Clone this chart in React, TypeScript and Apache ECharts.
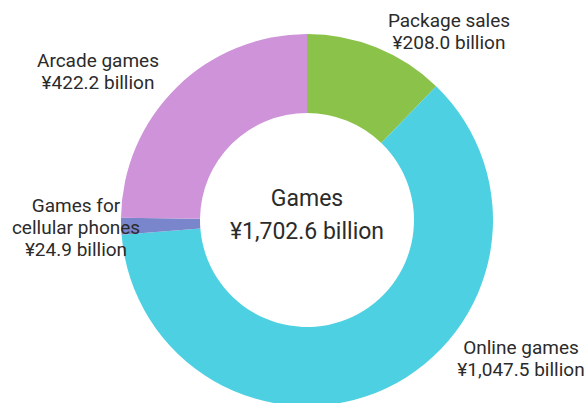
import React, { useEffect, useRef } from "react";
import * as echarts from "echarts";

const categories = ["Package sales", "Online games", "Games for\ncellular phones", "Arcade games"];
const values = [208.0, 1047.5, 24.9, 422.2];
const colors = ["#8BC34A", "#4DD0E1", "#7986CB", "#CE93D8"];
const totalLabel = "Games";
const labelPositions = [
  [449, 31],
  [521, 358],
  [76, 227],
  [98, 71],
];

const fmt = (v: number) =>
  v.toLocaleString("en-US", { minimumFractionDigits: 1, maximumFractionDigits: 1 });

export default function App() {
  const ref = useRef<HTMLDivElement>(null);
  useEffect(() => {
    document.body.style.margin = "0";
    const chart = echarts.init(ref.current!, undefined, { renderer: "svg" });
    const total = values.reduce((a, b) => a + b, 0);
    chart.setOption({
      animation: false,
      backgroundColor: "#ffffff",
      graphic: [
        {
          type: "text",
          x: 307,
          y: 198,
          style: {
            text: totalLabel,
            fontSize: 23,
            fontFamily: "Roboto",
            fill: "#2b2b2b",
            align: "center",
            verticalAlign: "middle",
          },
        },
        {
          type: "text",
          x: 307,
          y: 231,
          style: {
            text: "¥" + fmt(total) + " billion",
            fontSize: 23,
            fontFamily: "Roboto",
            fill: "#2b2b2b",
            align: "center",
            verticalAlign: "middle",
          },
        },
      ],
      series: [
        {
          type: "pie",
          center: [307, 220],
          radius: [107, 186],
          startAngle: 90,
          clockwise: true,
          silent: true,
          data: categories.map((c, i) => ({
            name: c,
            value: values[i],
            itemStyle: { color: colors[i] },
          })),
          label: {
            show: true,
            position: "outside",
            alignTo: "none",
            overflow: "none",
            width: 300,
            formatter: (p: any) => p.name + "\n¥" + fmt(p.value) + " billion",
            fontSize: 19,
            lineHeight: 22,
            fontFamily: "Roboto",
            color: "#2b2b2b",
            align: "center",
          },
          labelLine: { show: false },
          labelLayout: (p: any) => ({
            x: labelPositions[p.dataIndex][0],
            y: labelPositions[p.dataIndex][1],
            align: "center",
            verticalAlign: "middle",
          }),
        },
      ],
    });
    return () => chart.dispose();
  }, []);
  return <div ref={ref} style={{ width: 588, height: 403 }} />;
}
